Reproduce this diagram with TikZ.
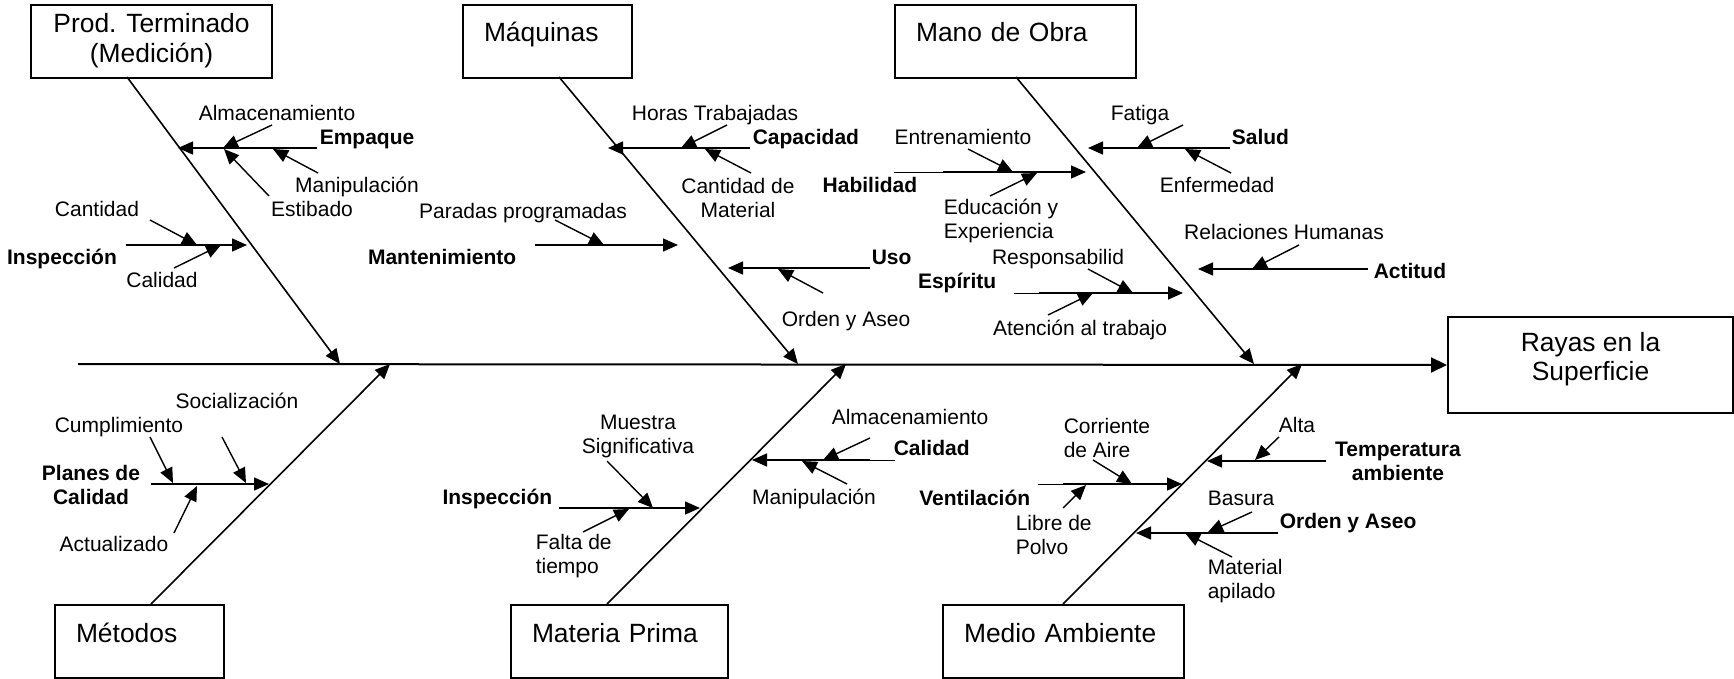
\documentclass[tikz,border=0pt]{standalone}
\usepackage{fontspec}
\setmainfont{Liberation Sans}
\usetikzlibrary{arrows.meta}

\begin{document}
\begin{tikzpicture}[%
        > = {Triangle[length = 7.5pt, width = 6.5pt]},
        x = 0.5pt,
        y = -0.5pt,
        line width = 0.8pt,
        catbox/.style = {draw, line width = 1pt, anchor = north west,
            font = \fontsize{13.2}{15}\selectfont},
        catleft/.style = {catbox, align = left, inner xsep = 10.5pt,
            inner ysep = 0pt, text height = 18.5pt, text depth = 18pt,
            text width = #1},
        cause/.style = {inner sep = 0pt, text height = 7.5pt, text depth = 0pt,
            font = \bfseries\fontsize{10.5}{12}\selectfont},
        minor/.style = {inner sep = 0pt, text height = 7.5pt, text depth = 0pt,
            font = \fontsize{10.5}{12}\selectfont},
        twoline/.style = {text height = , text depth = }
    ]

        % Picture size.
        \useasboundingbox (0, 0) rectangle (1734, 679);

        % Category boxes and effect.
        \node[catbox, align = center, minimum width = 120.5pt,
            minimum height = 36.5pt] (prod) at (30, 4) {Prod. Terminado\\(Medición)\\[-11pt]\mbox{}};
        \node[catleft = 63.5pt] (maq) at (462, 4) {Máquinas};
        \node[catleft = 99.5pt] (mano) at (894, 4) {Mano de Obra};
        \node[catleft = 63.5pt] (met) at (54, 604) {Métodos};
        \node[catleft = 87.5pt] (mat) at (510, 604) {Materia Prima};
        \node[catleft = 99.5pt] (med) at (942, 604) {Medio Ambiente};
        \node[catbox, align = center, minimum width = 142.5pt,
            minimum height = 48pt, font = \fontsize{13.2}{14.5}\selectfont]
            (effect) at (1447, 316) {Rayas en la\\Superficie\\[-6pt]\mbox{}};

        % Coordinates: backbone and spines.
        \coordinate (tail) at (78, 364);
        \coordinate (prodF) at (127, 77); \coordinate (prodT) at (340, 364);
        \coordinate (maqF) at (559, 77); \coordinate (maqT) at (798, 364);
        \coordinate (manoF) at (1016, 77); \coordinate (manoT) at (1254, 364);
        \coordinate (metF) at (151, 604); \coordinate (metT) at (390, 364);
        \coordinate (matF) at (607, 604); \coordinate (matT) at (846, 364);
        \coordinate (medF) at (1063, 604); \coordinate (medT) at (1302, 364);

        % Coordinates: main causes.
        \coordinate (empaqueS) at (317, 148); \coordinate (empaqueT) at (178, 148);
        \coordinate (inspec1S) at (126, 245); \coordinate (inspec1T) at (247, 245);
        \coordinate (capacidadS) at (750, 148); \coordinate (capacidadT) at (608, 148);
        \coordinate (mantenS) at (535, 245); \coordinate (mantenT) at (678, 245);
        \coordinate (usoS) at (870, 268); \coordinate (usoT) at (728, 268);
        \coordinate (habilA) at (894, 172); \coordinate (habilS) at (943, 172);
        \coordinate (habilT) at (1086, 172);
        \coordinate (saludS) at (1230, 148); \coordinate (saludT) at (1088, 148);
        \coordinate (espirituA) at (1014, 293); \coordinate (espirituS) at (1039, 293);
        \coordinate (espirituT) at (1183, 293);
        \coordinate (actitudS) at (1368, 269); \coordinate (actitudT) at (1198, 269);
        \coordinate (planesS) at (151, 484); \coordinate (planesT) at (269, 484);
        \coordinate (inspec2S) at (559, 508); \coordinate (inspec2T) at (700, 508);
        \coordinate (calidad2A) at (895, 460); \coordinate (calidad2S) at (870, 460);
        \coordinate (calidad2T) at (752, 460);
        \coordinate (tempS) at (1326, 461); \coordinate (tempT) at (1207, 461);
        \coordinate (ventilA) at (1038, 484); \coordinate (ventilS) at (1063, 484);
        \coordinate (ventilT) at (1182, 484);
        \coordinate (orden2S) at (1278, 533); \coordinate (orden2T) at (1136, 533);

        % Coordinates: sub-causes.
        \coordinate (almacen1S) at (272, 125); \coordinate (almacen1T) at (223, 148);
        \coordinate (estibadoS) at (269, 196); \coordinate (estibadoT) at (224, 149);
        \coordinate (manip1S) at (318, 173); \coordinate (manip1T) at (273, 149);
        \coordinate (cantidadS) at (150, 220); \coordinate (cantidadT) at (197, 245);
        \coordinate (calidad1S) at (174, 268); \coordinate (calidad1T) at (221, 245);
        \coordinate (horasS) at (727, 125); \coordinate (horasT) at (681, 148);
        \coordinate (cantmatS) at (751, 173); \coordinate (cantmatT) at (705, 149);
        \coordinate (paradasS) at (555, 220); \coordinate (paradasT) at (604, 245);
        \coordinate (orden1S) at (823, 293); \coordinate (orden1T) at (778, 269);
        \coordinate (entrenS) at (968, 149); \coordinate (entrenT) at (1013, 172);
        \coordinate (educS) at (990, 196); \coordinate (educT) at (1037, 173);
        \coordinate (fatigaS) at (1183, 125); \coordinate (fatigaT) at (1137, 148);
        \coordinate (enfermS) at (1231, 173); \coordinate (enfermT) at (1185, 149);
        \coordinate (responsS) at (1088, 269); \coordinate (responsT) at (1133, 293);
        \coordinate (atencionS) at (1048, 315); \coordinate (atencionT) at (1093, 293);
        \coordinate (relacS) at (1299, 245); \coordinate (relacT) at (1252, 269);
        \coordinate (cumplS) at (150, 437); \coordinate (cumplT) at (173, 483);
        \coordinate (socialS) at (222, 437); \coordinate (socialT) at (246, 483);
        \coordinate (actualS) at (174, 533); \coordinate (actualT) at (197, 486);
        \coordinate (muestraS) at (607, 461); \coordinate (muestraT) at (653, 508);
        \coordinate (faltaS) at (583, 532); \coordinate (faltaT) at (629, 509);
        \coordinate (almacen2S) at (870, 438); \coordinate (almacen2T) at (823, 460);
        \coordinate (manip2S) at (847, 484); \coordinate (manip2T) at (802, 461);
        \coordinate (altaS) at (1279, 437); \coordinate (altaT) at (1255, 460);
        \coordinate (corrienteS) at (1093, 460); \coordinate (corrienteT) at (1132, 484);
        \coordinate (libreS) at (1063, 508); \coordinate (libreT) at (1086, 485);
        \coordinate (basuraS) at (1252, 512); \coordinate (basuraT) at (1208, 532);
        \coordinate (materialS) at (1232, 557); \coordinate (materialT) at (1185, 533);

        % Main cause labels.
        \node[cause, anchor = west] (empaque) at (319, 137) {Empaque};
        \node[cause] (inspec1) at (62, 257) {Inspección};
        \node[cause, anchor = west] (capacidad) at (752, 137) {Capacidad};
        \node[cause, anchor = east] (manten) at (517, 257) {Mantenimiento};
        \node[cause, anchor = west] (uso) at (871, 257) {Uso};
        \node[cause, anchor = east] (habil) at (918, 185) {Habilidad};
        \node[cause, anchor = west] (salud) at (1231, 137) {Salud};
        \node[cause, anchor = east] (espiritu) at (997, 281) {Espíritu};
        \node[cause, anchor = west] (actitud) at (1373, 271) {Actitud};
        \node[cause, twoline, align = center] (planes) at (91, 485) {Planes de\\Calidad};
        \node[cause, anchor = east] (inspec2) at (553, 497) {Inspección};
        \node[cause, anchor = west] (calidad2) at (893, 448) {Calidad};
        \node[cause, twoline, align = center] (temp) at (1398, 461.5) {Temperatura\\ambiente};
        \node[cause, anchor = east] (ventil) at (1031, 498) {Ventilación};
        \node[cause, anchor = west] (orden2) at (1279, 521) {Orden y Aseo};

        % Sub-cause labels.
        \node[minor] (almacen1) at (277, 113) {Almacenamiento};
        \node[minor] (estibado) at (312, 209) {Estibado};
        \node[minor] (manip1) at (357, 185) {Manipulación};
        \node[minor] (cantidad) at (97, 209) {Cantidad};
        \node[minor] (calidad1) at (162, 280) {Calidad};
        \node[minor] (horas) at (715, 113) {Horas Trabajadas};
        \node[minor, twoline, align = center] (cantmat) at (738, 197.5) {Cantidad de\\Material};
        \node[minor] (paradas) at (523, 211) {Paradas programadas};
        \node[minor] (orden1) at (846, 319) {Orden y Aseo};
        \node[minor] (entren) at (963, 137) {Entrenamiento};
        \node[minor, twoline, align = left, anchor = west] (educ) at (943, 221) {Educación y\\Experiencia};
        \node[minor] (fatiga) at (1140, 113) {Fatiga};
        \node[minor] (enferm) at (1217, 185) {Enfermedad};
        \node[minor] (respons) at (1058, 257) {Responsabilid};
        \node[minor] (atencion) at (1080, 328) {Atención al trabajo};
        \node[minor] (relac) at (1284, 232) {Relaciones Humanas};
        \node[minor] (cumpl) at (119, 425) {Cumplimiento};
        \node[minor] (social) at (237, 401) {Socialización};
        \node[minor] (actual) at (114, 544) {Actualizado};
        \node[minor, twoline, align = center] (muestra) at (638, 436.5) {Muestra\\Significativa};
        \node[minor, twoline, align = left, anchor = west] (falta) at (535, 556.5) {Falta de\\tiempo};
        \node[minor] (almacen2) at (910, 417) {Almacenamiento};
        \node[minor] (manip2) at (814, 497) {Manipulación};
        \node[minor] (alta) at (1297, 425) {Alta};
        \node[minor, twoline, align = left, anchor = west] (corriente) at (1063, 437.5) {Corriente\\de Aire};
        \node[minor, twoline, align = left, anchor = west] (libre) at (1015, 534.5) {Libre de\\Polvo};
        \node[minor, anchor = west] (basura) at (1207, 498) {Basura};
        \node[minor, twoline, align = left, anchor = west] (material) at (1207, 581.5) {Material\\apilado};

        % Backbone and spines.
        \draw[-{Triangle[length = 8pt, width = 7.5pt]}, line width = 1pt] (tail) to (effect.west);
        \foreach \s in {prod, maq, mano, met, mat, med}
            \draw[->] (\s F) to (\s T);

        % Main cause branches.
        \foreach \c in {empaque, inspec1, capacidad, manten, uso, habil, salud,
            espiritu, actitud, planes, inspec2, calidad2, temp, ventil, orden2}
            \draw[->] (\c S) to (\c T);
        \draw[thin] (habilA) to (habilS);
        \draw[thin] (espirituA) to (espirituS);
        \draw[thin] (calidad2A) to (calidad2S);
        \draw[thin] (ventilA) to (ventilS);

        % Sub-cause arrows.
        \foreach \c in {almacen1, estibado, manip1, cantidad, calidad1, horas,
            cantmat, paradas, orden1, entren, educ, fatiga, enferm, respons,
            atencion, relac, cumpl, social, actual, muestra, falta, almacen2,
            manip2, alta, corriente, libre, basura, material}
            \draw[->, line width = 0.7pt] (\c S) to (\c T);

\end{tikzpicture}
\end{document}
